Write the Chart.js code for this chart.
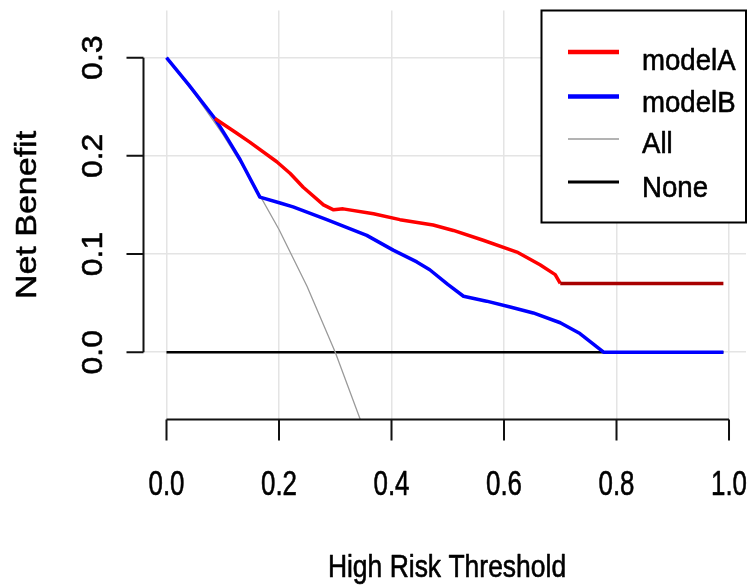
<!DOCTYPE html>
<html>
<head>
<meta charset="utf-8">
<script src="https://cdn.jsdelivr.net/npm/chart.js@4/dist/chart.umd.min.js"></script>
<style>
  html, body { margin: 0; padding: 0; background: #ffffff; }
  canvas { display: block; }
</style>
</head>
<body>
<canvas id="c" width="747" height="588" style="width:747px;height:588px"></canvas>
<script>
// ---- data ----
const seriesLabels = ["modelA", "modelB", "All", "None"];

const modelAx = [0.086, 0.125, 0.148, 0.196, 0.22, 0.243, 0.279, 0.297, 0.314, 0.368, 0.415, 0.474, 0.51, 0.563, 0.623, 0.664, 0.691, 0.7, 0.99];
const modelAy = [0.238, 0.223, 0.214, 0.194, 0.182, 0.168, 0.150, 0.145, 0.146, 0.141, 0.135, 0.1295, 0.124, 0.114, 0.102, 0.089, 0.079, 0.070, 0.070];

const modelBx = [0, 0.04, 0.086, 0.11, 0.131, 0.166, 0.202, 0.225, 0.285, 0.356, 0.403, 0.445, 0.468, 0.5, 0.528, 0.569, 0.611, 0.652, 0.7, 0.735, 0.777, 0.99];
const modelBy = [0.300, 0.272, 0.238, 0.216, 0.196, 0.158, 0.152, 0.148, 0.135, 0.119, 0.104, 0.092, 0.084, 0.069, 0.057, 0.052, 0.046, 0.040, 0.030, 0.019, 0.0, 0.0];

const allX = [0, 0.05, 0.1, 0.15, 0.2, 0.25, 0.3, 0.35];
const allY = [0.300, 0.263, 0.222, 0.176, 0.125, 0.067, 0.0, -0.077];

const noneX = [0, 0.99];
const noneY = [0, 0];

const xTicks = [0.0, 0.2, 0.4, 0.6, 0.8, 1.0];
const yTicks = [0.0, 0.1, 0.2, 0.3];
const xTickLabels = ["0.0", "0.2", "0.4", "0.6", "0.8", "1.0"];
const yTickLabels = ["0.0", "0.1", "0.2", "0.3"];

const xTitle = "High Risk Threshold";
const yTitle = "Net Benefit";

// ---- helpers ----
const zip = (xs, ys) => xs.map((x, i) => ({ x: x, y: ys[i] }));
const FONT = '"Liberation Sans", Arial, Helvetica, sans-serif';

function drawText(ctx, text, x, y, o) {
  ctx.save();
  ctx.translate(x, y);
  if (o.rot) ctx.rotate(o.rot);
  ctx.scale(o.sx || 1, o.sy || 1);
  ctx.font = o.size + 'px ' + FONT;
  ctx.fillStyle = '#000';
  ctx.strokeStyle = '#000';
  ctx.lineWidth = 0.6;
  ctx.lineJoin = 'round';
  ctx.textAlign = o.align || 'center';
  ctx.textBaseline = 'alphabetic';
  ctx.fillText(text, 0, 0);
  ctx.strokeText(text, 0, 0);
  ctx.restore();
}

const colors = { modelA: '#ff0000', modelAflat: '#a80000', modelB: '#0000ff', All: '#9a9a9a', None: '#000000' };

const rAxesPlugin = {
  id: 'rAxes',
  afterDraw(chart) {
    const ctx = chart.ctx;
    const xs = chart.scales.x, ys = chart.scales.y;
    const area = chart.chartArea;
    ctx.save();
    ctx.strokeStyle = '#111';
    ctx.lineWidth = 2;
    ctx.lineCap = 'butt';
    // x axis (R style: from first to last tick, at bottom of plot region)
    const xAxisY = area.bottom + 0.5;
    const x0 = xs.getPixelForValue(xTicks[0]);
    const x1 = xs.getPixelForValue(xTicks[xTicks.length - 1]);
    ctx.beginPath();
    ctx.moveTo(x0, xAxisY); ctx.lineTo(x1, xAxisY);
    xTicks.forEach(v => {
      const px = xs.getPixelForValue(v);
      ctx.moveTo(px, xAxisY); ctx.lineTo(px, xAxisY + 21);
    });
    ctx.stroke();
    // y axis
    const yAxisX = area.left - 0.5;
    const y0 = ys.getPixelForValue(yTicks[0]);
    const y1 = ys.getPixelForValue(yTicks[yTicks.length - 1]);
    ctx.beginPath();
    ctx.moveTo(yAxisX, y0); ctx.lineTo(yAxisX, y1);
    yTicks.forEach(v => {
      const py = ys.getPixelForValue(v);
      ctx.moveTo(yAxisX, py); ctx.lineTo(yAxisX - 17, py);
    });
    ctx.stroke();
    ctx.restore();

    // tick labels
    xTicks.forEach((v, i) => {
      drawText(ctx, xTickLabels[i], xs.getPixelForValue(v), 495, { size: 35, sx: 0.74 });
    });
    yTicks.forEach((v, i) => {
      drawText(ctx, yTickLabels[i], 101.5, ys.getPixelForValue(v), { size: 32, sy: 0.92, rot: -Math.PI / 2 });
    });
    // axis titles
    drawText(ctx, xTitle, 447, 577, { size: 31.5, sx: 0.84 });
    drawText(ctx, yTitle, 36, 215, { size: 34, sy: 0.85, rot: -Math.PI / 2 });

    // legend (topright box)
    const bx = 541.5, by = 10.5, bw = 204.5, bh = 212;
    ctx.save();
    ctx.fillStyle = '#ffffff';
    ctx.fillRect(bx, by, bw, bh);
    ctx.strokeStyle = '#000';
    ctx.lineWidth = 2;
    ctx.strokeRect(bx, by, bw, bh);
    const rowsY = [52, 96.5, 139, 182];
    const baseY = [70, 111.5, 153, 196.5];
    chart.data.datasets.forEach((ds, i) => {
      ctx.beginPath();
      ctx.strokeStyle = ds.legendColor;
      ctx.lineWidth = ds.legendWidth;
      ctx.moveTo(568, rowsY[i]); ctx.lineTo(619, rowsY[i]);
      ctx.stroke();
      drawText(ctx, ds.label, 642, baseY[i], { size: 30, sx: 0.92, align: 'left' });
    });
    ctx.restore();
  }
};

new Chart(document.getElementById('c'), {
  type: 'line',
  data: {
    datasets: [
      {
        label: seriesLabels[0], data: zip(modelAx, modelAy),
        borderColor: colors.modelA, borderWidth: 3.5,
        segment: { borderColor: c => (c.p0.parsed.x >= 0.699 ? colors.modelAflat : colors.modelA) },
        legendColor: colors.modelA, legendWidth: 4.5
      },
      {
        label: seriesLabels[1], data: zip(modelBx, modelBy),
        borderColor: colors.modelB, borderWidth: 3.5,
        legendColor: colors.modelB, legendWidth: 4.5
      },
      {
        label: seriesLabels[2], data: zip(allX, allY),
        borderColor: colors.All, borderWidth: 1.3,
        legendColor: colors.All, legendWidth: 1.5
      },
      {
        label: seriesLabels[3], data: zip(noneX, noneY),
        borderColor: colors.None, borderWidth: 2.5,
        legendColor: colors.None, legendWidth: 3
      }
    ]
  },
  options: {
    responsive: false,
    animation: false,
    devicePixelRatio: 1,
    parsing: true,
    elements: {
      point: { radius: 0, hoverRadius: 0 },
      line: { tension: 0, borderJoinStyle: 'round', borderCapStyle: 'butt' }
    },
    layout: { padding: { left: 144, right: 1, top: 10.5, bottom: 169 } },
    plugins: { legend: { display: false }, tooltip: { enabled: false }, title: { display: false } },
    scales: {
      x: {
        type: 'linear', min: -0.04, max: 1.0302,
        afterBuildTicks: s => { s.ticks = xTicks.map(v => ({ value: v })); },
        ticks: { display: false },
        grid: { color: '#e4e4e4', lineWidth: 1.5, drawTicks: false },
        border: { display: false }
      },
      y: {
        type: 'linear', min: -0.068, max: 0.348,
        afterBuildTicks: s => { s.ticks = yTicks.map(v => ({ value: v })); },
        ticks: { display: false },
        grid: { color: '#e4e4e4', lineWidth: 1.5, drawTicks: false },
        border: { display: false }
      }
    }
  },
  plugins: [rAxesPlugin]
});
</script>
</body>
</html>
